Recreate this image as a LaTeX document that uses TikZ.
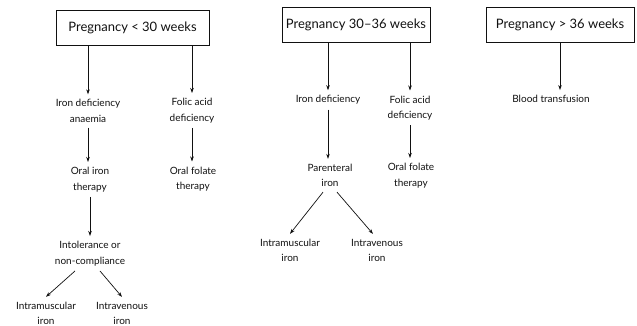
\documentclass[tikz,border=0pt]{standalone}
\usepackage{fontspec}
\setmainfont{Lato}
\usetikzlibrary{arrows.meta}
\definecolor{ink}{HTML}{111111}
\begin{document}
\begin{tikzpicture}[x=1pt,y=-1pt,
  box/.style={draw=ink,line width=0.8pt,minimum height=35pt,inner sep=0pt,font=\fontsize{13}{15}\selectfont,text=ink},
  lbl/.style={align=center,inner xsep=1pt,inner ysep=5pt,font=\fontsize{10}{15.5}\selectfont,text=ink},
  arr/.style={draw=ink,line width=0.7pt,-{Stealth[length=5pt,width=3.5pt]}}]
\useasboundingbox[fill=white] (0,0) rectangle (637,326);
% column 1
\node[box,minimum width=153pt] (b1) at (132.5,27.5) {Pregnancy < 30 weeks};
\node[lbl] (ida) at (88,111) {Iron deficiency\\anaemia};
\node[lbl] (fad1) at (192,110.5) {Folic acid\\deficiency};
\node[lbl] (oit) at (90,179.5) {Oral iron\\therapy};
\node[lbl] (oft1) at (193,179) {Oral folate\\therapy};
\node[lbl] (ic) at (90,253.5) {Intolerance or\\non-compliance};
\node[lbl] (im1) at (46,313.5) {Intramuscular\\iron};
\node[lbl] (iv1) at (122,313.5) {Intravenous\\iron};
% column 2
\node[box,minimum width=148pt] (b2) at (356,25) {Pregnancy 30–36 weeks};
\node[lbl] (id2) at (328,100) {Iron deficiency};
\node[lbl] (fad2) at (410,108) {Folic acid\\deficiency};
\node[lbl] (pi) at (330,175.5) {Parenteral\\iron};
\node[lbl] (oft2) at (411,175.5) {Oral folate\\therapy};
\node[lbl] (im2) at (290,250.5) {Intramuscular\\iron};
\node[lbl] (iv2) at (377,250.5) {Intravenous\\iron};
% column 3
\node[box,minimum width=148pt] (b3) at (560,25) {Pregnancy > 36 weeks};
\node[lbl] (bt) at (551,99) {Blood transfusion};
% arrows
\draw[arr] (b1.south -| ida) -- (ida.north);
\draw[arr] (b1.south -| fad1) -- (fad1.north);
\draw[arr] (ida.south) -- (ida.south |- oit.north);
\draw[arr] (fad1.south) -- (fad1.south |- oft1.north);
\draw[arr] (oit.south) -- (ic.north);
\draw[arr] ([xshift=-15pt]ic.south) -- (im1.north);
\draw[arr] ([xshift=10pt]ic.south) -- (iv1.north);
\draw[arr] (b2.south -| id2) -- (id2.north);
\draw[arr] (b2.south -| fad2) -- (fad2.north);
\draw[arr] (id2.south) -- (id2.south |- pi.north);
\draw[arr] (fad2.south) -- (fad2.south |- oft2.north);
\draw[arr] ([xshift=-7pt]pi.south) -- (im2.north);
\draw[arr] ([xshift=7pt]pi.south) -- ([xshift=-4pt]iv2.north);
\draw[arr] (b3.south) -- (b3.south |- bt.north);
\end{tikzpicture}
\end{document}
